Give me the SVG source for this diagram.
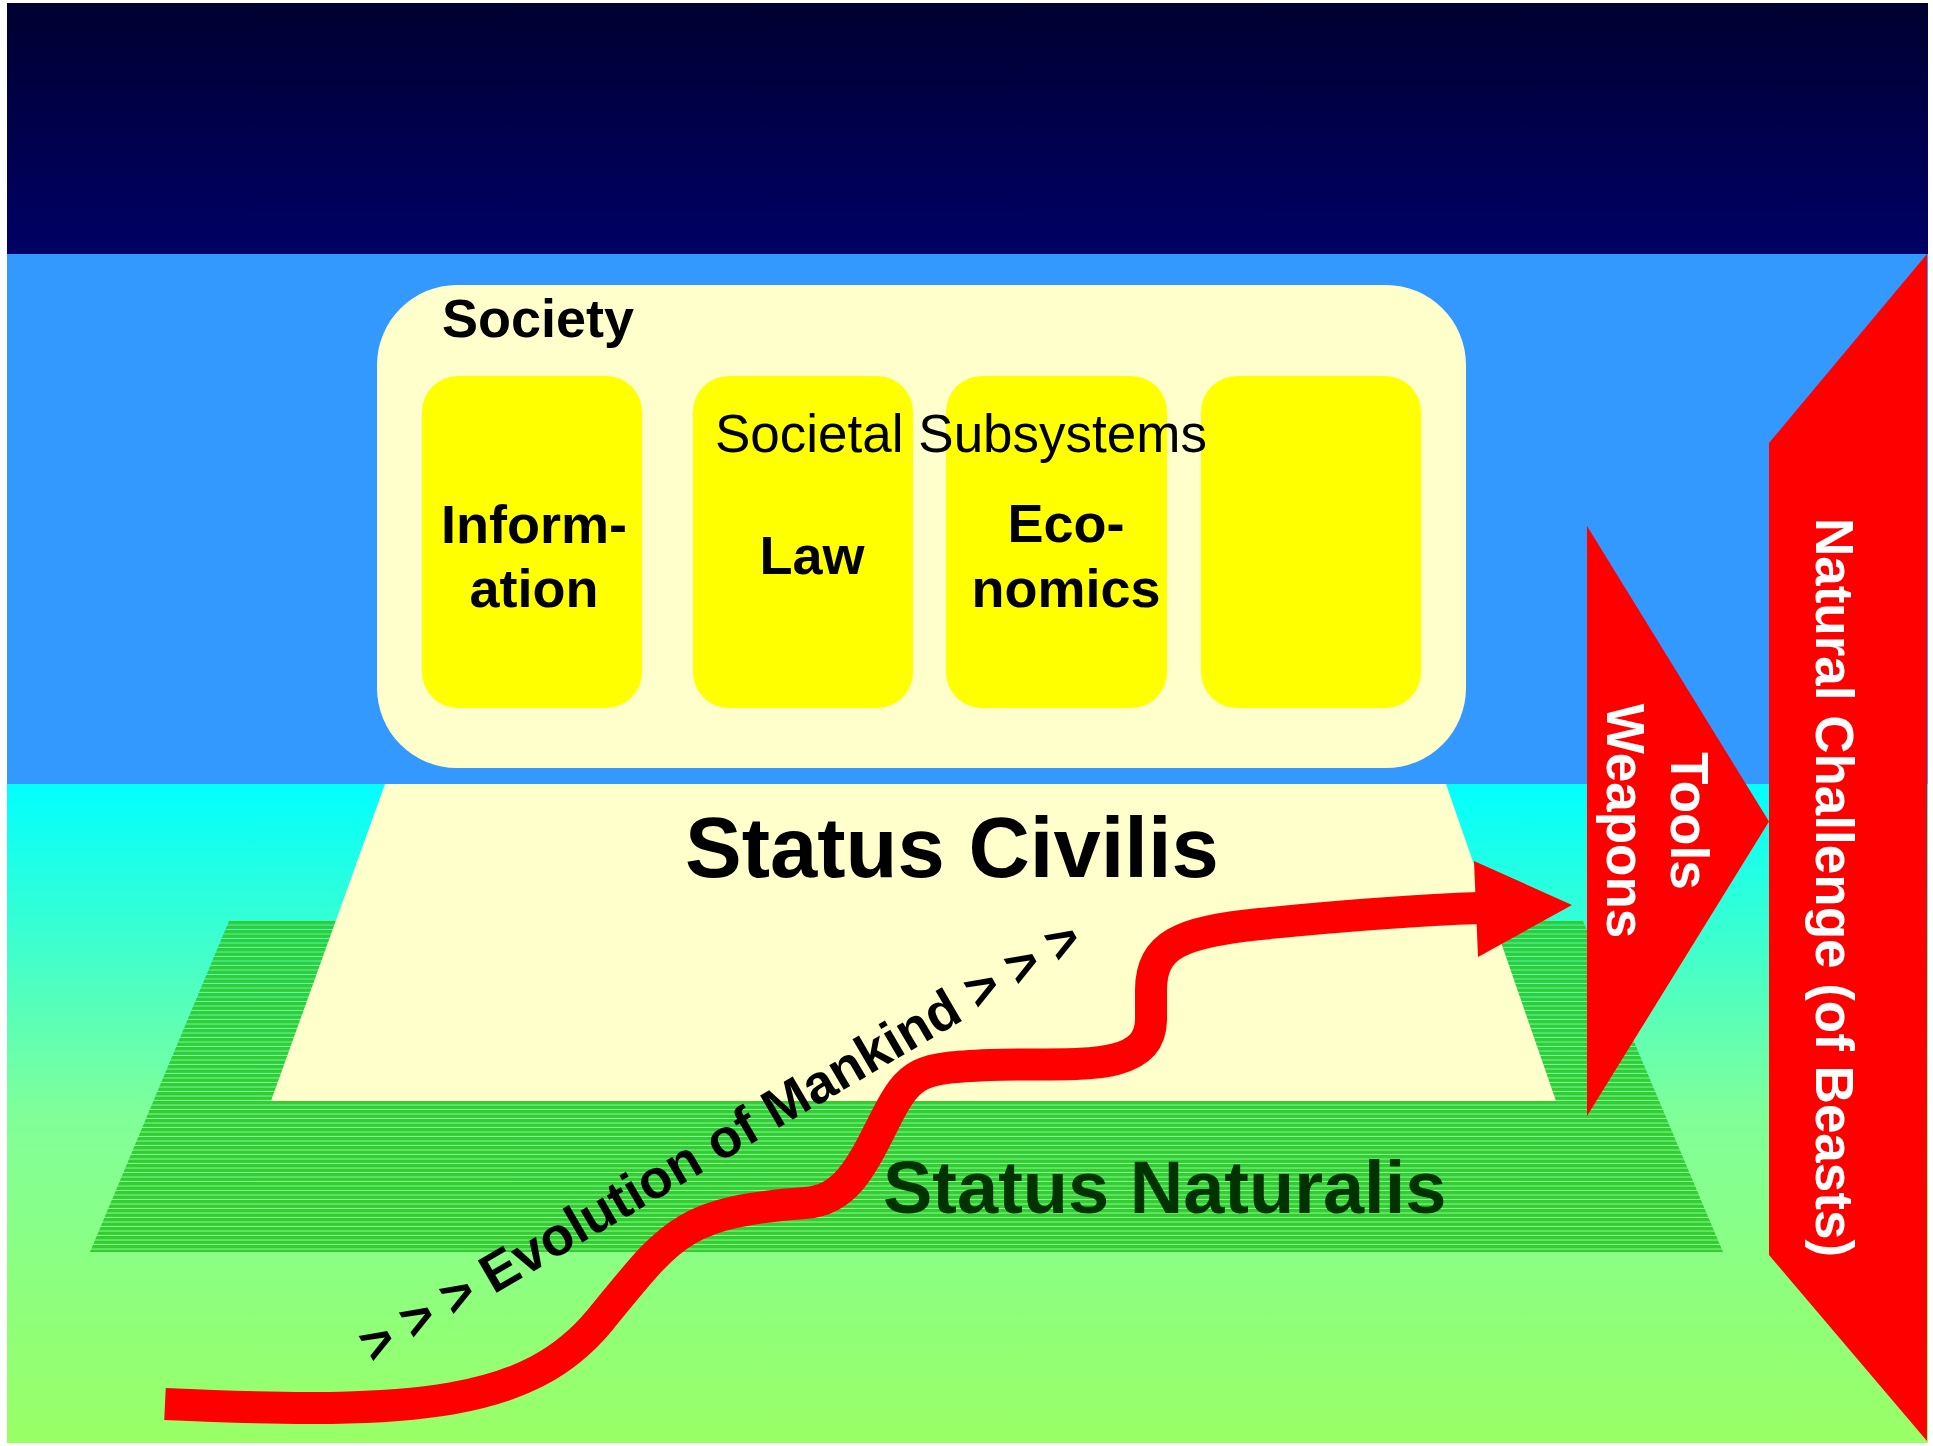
<svg xmlns="http://www.w3.org/2000/svg" width="1933" height="1446" viewBox="0 0 1933 1446">
  <defs>
    <linearGradient id="sky" x1="0" y1="3" x2="0" y2="254" gradientUnits="userSpaceOnUse">
      <stop offset="0" stop-color="#000030"/>
      <stop offset="1" stop-color="#000066"/>
    </linearGradient>
    <linearGradient id="ground" x1="0" y1="784" x2="0" y2="1443" gradientUnits="userSpaceOnUse">
      <stop offset="0" stop-color="#00ffff"/>
      <stop offset="0.5" stop-color="#80ff99"/>
      <stop offset="1" stop-color="#99ff66"/>
    </linearGradient>
    <pattern id="stripes" patternUnits="userSpaceOnUse" x="0" y="921" width="40" height="4.5">
      <rect x="0" y="0" width="40" height="3.5" fill="#33cc33"/>
    </pattern>
    <style>
      .bold { font-family: "Liberation Sans", Arial, Helvetica, sans-serif; font-weight: bold; }
      .reg { font-family: "Liberation Sans", Arial, Helvetica, sans-serif; font-weight: normal; }
      .sub { fill: #ffff00; }
      .lbl { font-size: 54px; fill: #000; text-anchor: middle; }
      .white { fill: #ffffff; font-size: 53px; text-anchor: middle; }
      .red { fill: #ff0000; }
    </style>
  </defs>

  <rect x="0" y="0" width="1933" height="1446" fill="#ffffff"/>
  <g id="background">
    <rect x="7" y="3" width="1921" height="251" fill="url(#sky)"/>
    <rect x="7" y="254" width="1921" height="530" fill="#3399ff"/>
    <rect x="7" y="784" width="1921" height="659" fill="url(#ground)"/>
  </g>

  <g id="status-naturalis">
    <polygon points="229,921 1583,921 1723,1252 90,1252" fill="url(#stripes)"/>
    <text class="bold" x="883" y="1213" font-size="74" fill="#003300">Status Naturalis</text>
  </g>

  <g id="status-civilis">
    <polygon points="385,784 1446,784 1556,1101 271,1101" fill="#ffffcc"/>
    <text class="bold" x="685" y="877" font-size="85" fill="#000">Status Civilis</text>
  </g>

  <g id="society">
    <rect x="377" y="285" width="1089" height="483" rx="80" ry="80" fill="#ffffcc"/>
    <text class="bold" x="442" y="337" font-size="54" fill="#000">Society</text>
  </g>

  <g id="subsystem-information">
    <rect class="sub" x="422" y="376" width="220" height="332" rx="36" ry="36"/>
    <text class="bold lbl" x="534" y="543">Inform-</text>
    <text class="bold lbl" x="534" y="607">ation</text>
  </g>
  <g id="subsystem-law">
    <rect class="sub" x="693" y="376" width="220" height="332" rx="36" ry="36"/>
    <text class="bold lbl" x="812" y="574">Law</text>
  </g>
  <g id="subsystem-economics">
    <rect class="sub" x="946" y="376" width="221" height="332" rx="36" ry="36"/>
    <text class="bold lbl" x="1066" y="542">Eco-</text>
    <text class="bold lbl" x="1066" y="607">nomics</text>
  </g>
  <g id="subsystem-empty">
    <rect class="sub" x="1201" y="376" width="220" height="332" rx="36" ry="36"/>
  </g>
  <g id="societal-subsystems-label">
    <text class="reg" x="715" y="452" font-size="53" fill="#000">Societal Subsystems</text>
  </g>

  <g id="tools-weapons">
    <polygon class="red" points="1587,526 1769,821.5 1587,1116"/>
    <text class="bold white" x="1671" y="821" transform="rotate(90 1671 821)">Tools</text>
    <text class="bold white" x="1607" y="821" transform="rotate(90 1607 821)">Weapons</text>
  </g>

  <g id="natural-challenge">
    <polygon class="red" points="1769,443 1927,254 1927,1441 1769,1255"/>
    <text class="bold white" x="1816" y="887.5" transform="rotate(90 1816 887.5)">Natural Challenge (of Beasts)</text>
  </g>

  <g id="connectors">
    <path d="M165,1404 C420,1416 530,1405 600,1320 S680,1212 805,1203 C845,1200 860,1170 885,1120 S920,1068 990,1065 C1070,1062 1150,1075 1151,1020 L1151,990 C1151,945 1180,932 1260,924 C1340,916 1420,910 1480,908" fill="none" stroke="#ff0000" stroke-width="32"/>
    <polygon class="red" points="1474,861 1572,905 1478,957"/>
  </g>

  <g id="evolution-label">
    <text class="bold" x="373" y="1365" font-size="54" fill="#000" transform="rotate(-30.3 373 1365)">&gt; &gt; &gt; Evolution of Mankind &gt; &gt; &gt;</text>
  </g>
</svg>
